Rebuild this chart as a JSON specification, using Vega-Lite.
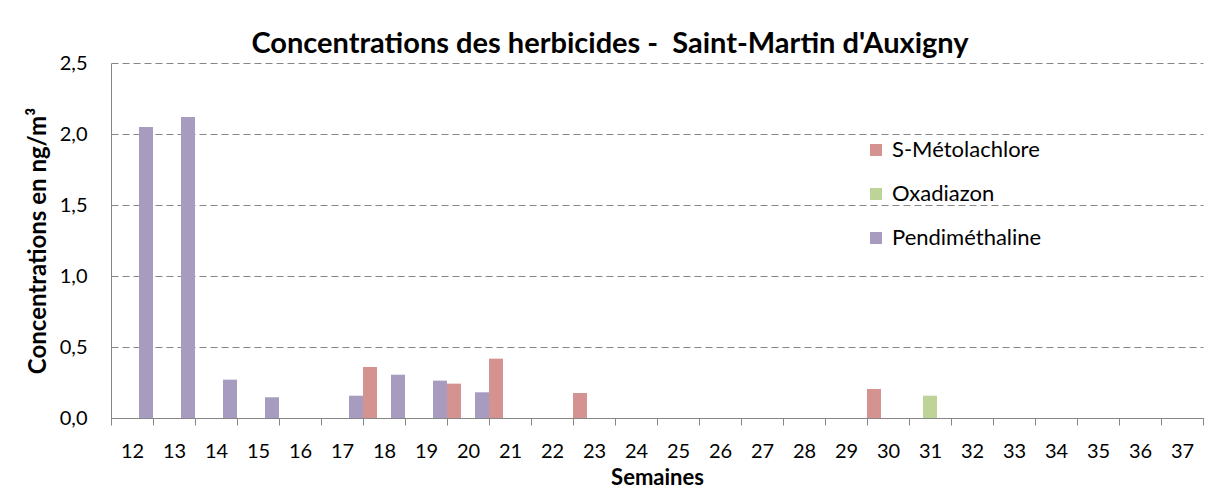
{
  "$schema": "https://vega.github.io/schema/vega-lite/v6.json",
  "width": 1092,
  "height": 355,
  "autosize": {"type": "none"},
  "padding": {"left": 111, "top": 63, "right": 5, "bottom": 71},
  "background": "white",
  "title": {
    "text": "Concentrations des herbicides -\u00a0 Saint-Martin d'Auxigny",
    "font": "Lato",
    "fontSize": 29,
    "fontWeight": "bold",
    "color": "#000000",
    "anchor": "middle",
    "dx": -47,
    "baseline": "alphabetic",
    "offset": -29
  },
  "data": {
    "values": [
      {"semaine": 12, "herbicide": "Pendiméthaline", "conc": 2.05},
      {"semaine": 13, "herbicide": "Pendiméthaline", "conc": 2.12},
      {"semaine": 14, "herbicide": "Pendiméthaline", "conc": 0.27},
      {"semaine": 15, "herbicide": "Pendiméthaline", "conc": 0.146},
      {"semaine": 17, "herbicide": "Pendiméthaline", "conc": 0.157},
      {"semaine": 18, "herbicide": "S-Métolachlore", "conc": 0.359},
      {"semaine": 18, "herbicide": "Pendiméthaline", "conc": 0.305},
      {"semaine": 19, "herbicide": "Pendiméthaline", "conc": 0.263},
      {"semaine": 20, "herbicide": "S-Métolachlore", "conc": 0.242},
      {"semaine": 20, "herbicide": "Pendiméthaline", "conc": 0.181},
      {"semaine": 21, "herbicide": "S-Métolachlore", "conc": 0.418},
      {"semaine": 23, "herbicide": "S-Métolachlore", "conc": 0.176},
      {"semaine": 30, "herbicide": "S-Métolachlore", "conc": 0.204},
      {"semaine": 31, "herbicide": "Oxadiazon", "conc": 0.157}
    ]
  },
  "mark": {"type": "bar"},
  "encoding": {
    "x": {
      "field": "semaine",
      "type": "ordinal",
      "title": "Semaines",
      "scale": {
        "domain": [12,13,14,15,16,17,18,19,20,21,22,23,24,25,26,27,28,29,30,31,32,33,34,35,36,37],
        "paddingInner": 0,
        "paddingOuter": 0
      },
      "axis": {
        "labelAngle": 0,
        "tickBand": "extent",
        "grid": false,
        "domainColor": "#868686",
        "tickColor": "#868686",
        "tickSize": 7,
        "labelFont": "Lato",
        "labelFontSize": 20,
        "labelColor": "#000000",
        "labelPadding": 16,
        "titleFont": "Lato",
        "titleFontSize": 22,
        "titleFontWeight": "bold",
        "titleColor": "#000000",
        "titlePadding": 6
      }
    },
    "xOffset": {
      "field": "herbicide",
      "type": "nominal",
      "scale": {
        "domain": ["S-Métolachlore", "Oxadiazon", "Pendiméthaline"],
        "paddingInner": 0,
        "paddingOuter": 0
      }
    },
    "y": {
      "field": "conc",
      "type": "quantitative",
      "title": "Concentrations en ng/m³",
      "scale": {"domain": [0, 2.5], "nice": false},
      "axis": {
        "values": [0, 0.5, 1, 1.5, 2, 2.5],
        "labelExpr": "replace(format(datum.value, '.1f'), '.', ',')",
        "ticks": false,
        "domainColor": "#868686",
        "gridColor": "#868686",
        "gridDash": [7, 4],
        "gridWidth": 1,
        "labelFont": "Lato",
        "labelFontSize": 20,
        "labelColor": "#000000",
        "labelPadding": 24,
        "titleFont": "Lato",
        "titleFontSize": 24,
        "titleFontWeight": "bold",
        "titleColor": "#000000",
        "titlePadding": 9
      }
    },
    "color": {
      "field": "herbicide",
      "type": "nominal",
      "title": null,
      "scale": {
        "domain": ["S-Métolachlore", "Oxadiazon", "Pendiméthaline"],
        "range": ["#D49391", "#BDD398", "#A89BC0"]
      },
      "legend": {
        "orient": "none",
        "legendX": 754,
        "legendY": 76,
        "symbolType": "square",
        "symbolSize": 144,
        "symbolStrokeWidth": 0,
        "symbolOpacity": 1,
        "labelFont": "Lato",
        "labelFontSize": 22,
        "labelColor": "#000000",
        "labelOffset": 5,
        "rowPadding": 22
      }
    }
  },
  "config": {
    "view": {"stroke": null}
  }
}
